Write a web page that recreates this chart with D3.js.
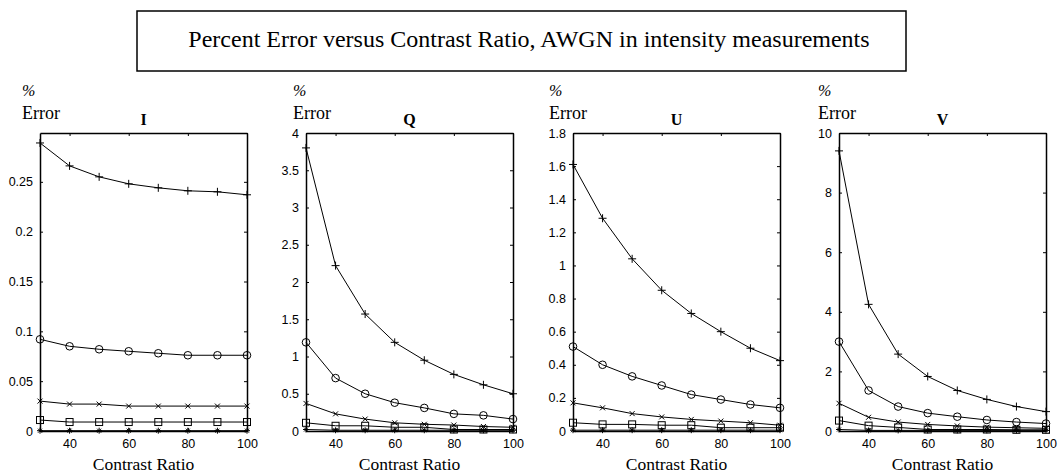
<!DOCTYPE html>
<html>
<head>
<meta charset="utf-8">
<script src="https://cdn.jsdelivr.net/npm/d3@7"></script>
<style>
  body { margin: 0; background: #fff; }
  .tick text { font-family: "Liberation Sans", Arial, sans-serif; font-size: 12.5px; fill: #000; }
  .ser { fill: none; stroke: #000; stroke-width: 1; }
  .mk { fill: none; stroke: #000; stroke-width: 1; }
</style>
</head>
<body>
<div id="chart"></div>
<script>
// daten
const contrast = [30, 40, 50, 60, 70, 80, 90, 100];
const xTicks = [40, 60, 80, 100];

const iPlus   = [0.289, 0.266, 0.255, 0.248, 0.244, 0.241, 0.240, 0.237];
const iCircle = [0.092, 0.085, 0.082, 0.080, 0.078, 0.076, 0.076, 0.076];
const iCross  = [0.030, 0.027, 0.027, 0.025, 0.025, 0.025, 0.025, 0.025];
const iSquare = [0.011, 0.009, 0.009, 0.009, 0.009, 0.009, 0.009, 0.009];
const iStar   = [0.0003, 0.0003, 0.0003, 0.0003, 0.0003, 0.0003, 0.0003, 0.0003];

const qPlus   = [3.80, 2.22, 1.57, 1.19, 0.95, 0.76, 0.62, 0.50];
const qCircle = [1.19, 0.71, 0.50, 0.38, 0.31, 0.23, 0.21, 0.16];
const qCross  = [0.37, 0.23, 0.16, 0.11, 0.09, 0.08, 0.06, 0.05];
const qSquare = [0.11, 0.07, 0.07, 0.05, 0.05, 0.02, 0.02, 0.02];
const qStar   = [0.02, 0.01, 0.01, 0.01, 0.01, 0.01, 0.01, 0.01];

const uPlus   = [1.61, 1.285, 1.04, 0.85, 0.71, 0.60, 0.50, 0.425];
const uCircle = [0.51, 0.40, 0.33, 0.275, 0.22, 0.19, 0.16, 0.14];
const uCross  = [0.17, 0.14, 0.105, 0.085, 0.07, 0.06, 0.05, 0.035];
const uSquare = [0.05, 0.04, 0.04, 0.035, 0.035, 0.02, 0.02, 0.02];
const uStar   = [0.005, 0.005, 0.005, 0.005, 0.005, 0.005, 0.005, 0.005];

const vPlus   = [9.4, 4.25, 2.58, 1.83, 1.36, 1.06, 0.82, 0.65];
const vCircle = [3.0, 1.36, 0.82, 0.60, 0.48, 0.37, 0.30, 0.25];
const vCross  = [0.93, 0.46, 0.30, 0.22, 0.17, 0.13, 0.11, 0.09];
const vSquare = [0.35, 0.18, 0.12, 0.05, 0.05, 0.05, 0.04, 0.04];
const vStar   = [0.05, 0.02, 0.02, 0.02, 0.02, 0.02, 0.02, 0.02];

const iTicks = [0, 0.05, 0.1, 0.15, 0.2, 0.25];
const qTicks = [0, 0.5, 1, 1.5, 2, 2.5, 3, 3.5, 4];
const uTicks = [0, 0.2, 0.4, 0.6, 0.8, 1, 1.2, 1.4, 1.6, 1.8];
const vTicks = [0, 2, 4, 6, 8, 10];

const panelNames = ["I", "Q", "U", "V"];
const yMax = [0.299, 4, 1.8, 10];
const yTicks = [iTicks, qTicks, uTicks, vTicks];
const panelSeries = [
  [iPlus, iCircle, iCross, iSquare, iStar],
  [qPlus, qCircle, qCross, qSquare, qStar],
  [uPlus, uCircle, uCross, uSquare, uStar],
  [vPlus, vCircle, vCross, vSquare, vStar]
];
const markerKinds = ["plus", "circle", "cross", "square", "star"];

const titleText = "Percent Error versus Contrast Ratio, AWGN in intensity measurements";

// layout
const W = 1061, H = 474;
const panelLeft = [40, 306, 573, 839];
const errLabelX = [22, 293, 549, 818];
const pw = 207, plotTop = 133, plotBottom = 431;

const svg = d3.select("#chart").append("svg")
  .attr("width", W)
  .attr("height", H);

// titelbox
svg.append("rect")
  .attr("x", 137).attr("y", 11)
  .attr("width", 769).attr("height", 60)
  .attr("fill", "none").attr("stroke", "#000").attr("stroke-width", 1.5);

svg.append("text")
  .attr("x", 529).attr("y", 47)
  .attr("text-anchor", "middle")
  .style("font-family", "'Liberation Serif', 'Times New Roman', serif")
  .style("font-size", "24px")
  .text(titleText);

function drawMarker(g, kind, x, y) {
  if (kind === "plus") {
    g.append("path").attr("class", "mk").attr("d", `M${x-4},${y}H${x+4}M${x},${y-4}V${y+4}`);
  } else if (kind === "circle") {
    g.append("circle").attr("class", "mk").attr("cx", x).attr("cy", y).attr("r", 3.8);
  } else if (kind === "cross") {
    g.append("path").attr("class", "mk").attr("d", `M${x-2.5},${y-2.5}L${x+2.5},${y+2.5}M${x-2.5},${y+2.5}L${x+2.5},${y-2.5}`);
  } else if (kind === "square") {
    g.append("rect").attr("class", "mk").attr("x", x-3.5).attr("y", y-3.5).attr("width", 7).attr("height", 7);
  } else {
    g.append("path").attr("class", "mk").attr("d",
      `M${x-3},${y}H${x+3}M${x},${y-3}V${y+3}M${x-2},${y-2}L${x+2},${y+2}M${x-2},${y+2}L${x+2},${y-2}`);
  }
}

panelNames.forEach(function(name, p) {
  const x = d3.scaleLinear().domain([30, 100]).range([panelLeft[p], panelLeft[p] + pw]);
  const y = d3.scaleLinear().domain([0, yMax[p]]).range([plotBottom, plotTop]);
  const g = svg.append("g");

  // achsen, ticks nach innen
  g.append("g").attr("transform", `translate(0,${plotBottom})`)
    .call(d3.axisBottom(x).tickValues(xTicks).tickSizeInner(-3).tickSizeOuter(0).tickPadding(8));
  g.append("g").attr("transform", `translate(0,${plotTop})`)
    .call(d3.axisTop(x).tickValues(xTicks).tickSizeInner(-3).tickSizeOuter(0).tickFormat(""));
  g.append("g").attr("transform", `translate(${panelLeft[p]},0)`)
    .call(d3.axisLeft(y).tickValues(yTicks[p]).tickSizeInner(-3).tickSizeOuter(0).tickPadding(7)
      .tickFormat(d3.format("~g")));
  g.append("g").attr("transform", `translate(${panelLeft[p] + pw},0)`)
    .call(d3.axisRight(y).tickValues(yTicks[p]).tickSizeInner(-3).tickSizeOuter(0).tickFormat(""));
  g.selectAll(".domain").attr("stroke", "#000").attr("stroke-width", 1.5);
  g.selectAll(".tick line").attr("stroke", "#000");

  // kurven
  const line = d3.line().x((d, i) => x(contrast[i])).y(d => y(d));
  panelSeries[p].forEach(function(vals, s) {
    g.append("path").datum(vals).attr("class", "ser").attr("d", line);
    vals.forEach(function(v, i) {
      drawMarker(g, markerKinds[s], x(contrast[i]), y(v));
    });
  });

  // beschriftung
  g.append("text")
    .attr("x", panelLeft[p] + pw / 2).attr("y", 125)
    .attr("text-anchor", "middle")
    .style("font-family", "'Liberation Serif', serif")
    .style("font-weight", "bold")
    .style("font-size", "16px")
    .text(name);

  g.append("text")
    .attr("x", errLabelX[p]).attr("y", 96)
    .style("font-family", "'Liberation Serif', serif")
    .style("font-style", "italic")
    .style("font-size", "16px")
    .text("%");

  g.append("text")
    .attr("x", errLabelX[p]).attr("y", 119)
    .style("font-family", "'Liberation Serif', serif")
    .style("font-size", "18px")
    .text("Error");

  g.append("text")
    .attr("x", panelLeft[p] + pw / 2).attr("y", 470)
    .attr("text-anchor", "middle")
    .style("font-family", "'Liberation Serif', serif")
    .style("font-size", "17.5px")
    .text("Contrast Ratio");
});
</script>
</body>
</html>
